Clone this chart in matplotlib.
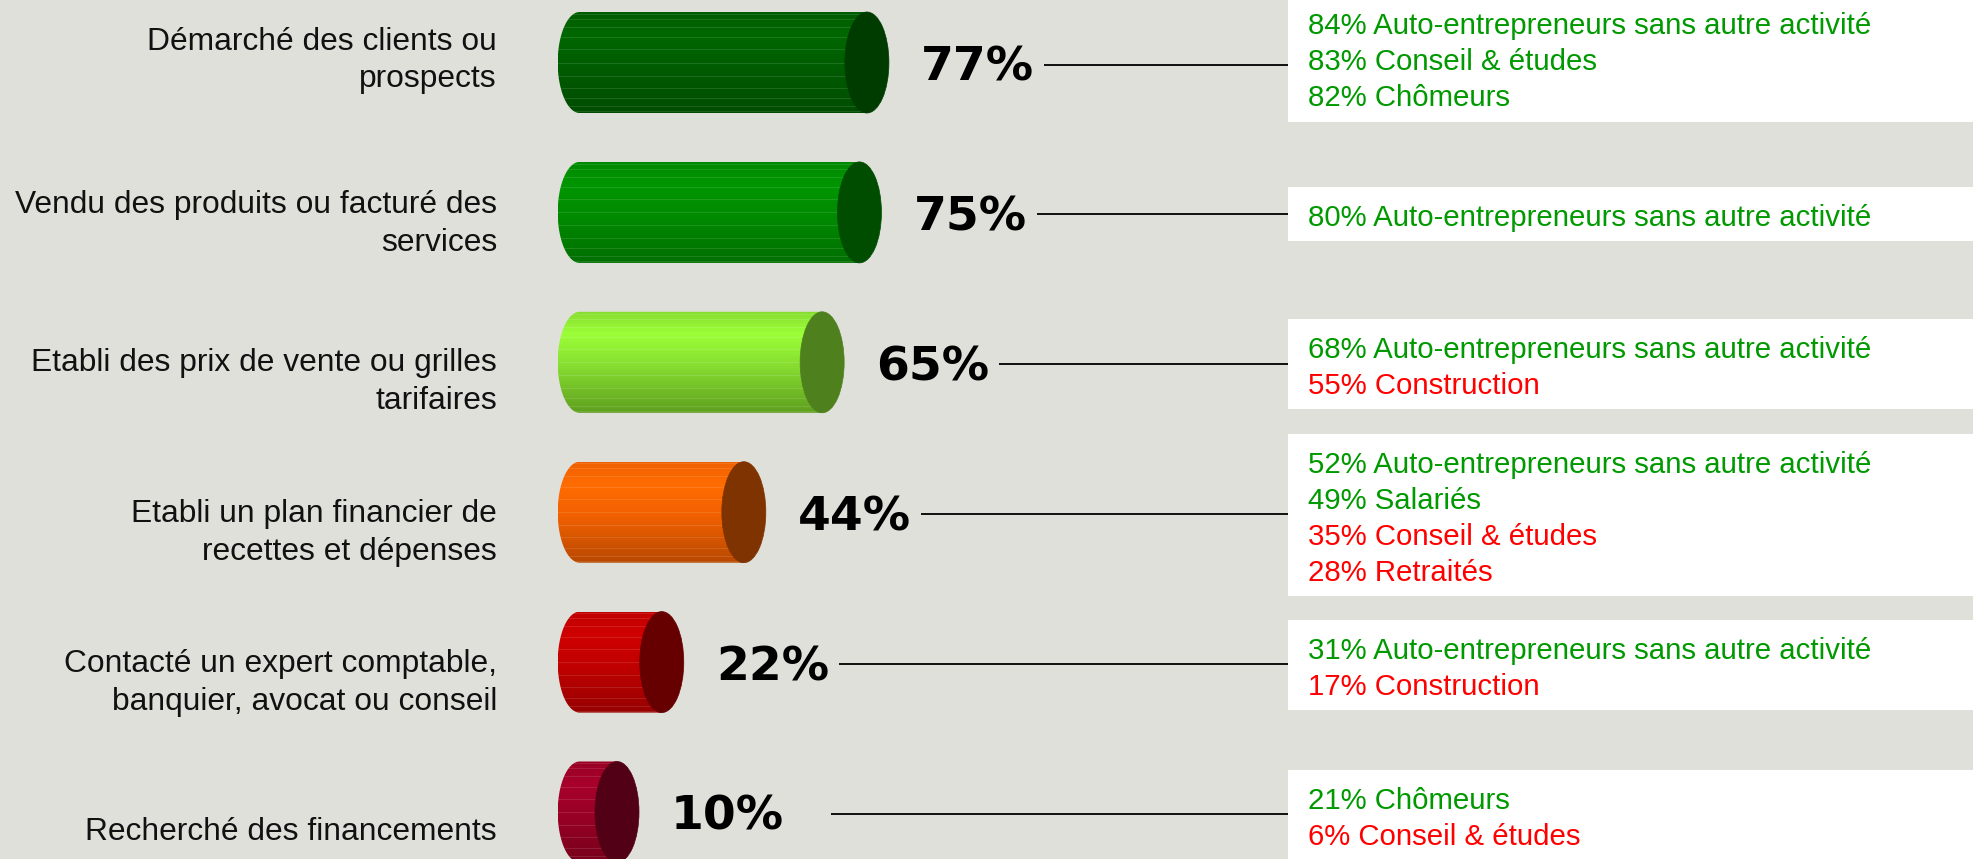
import numpy as np
import matplotlib
matplotlib.use("Agg")
import matplotlib.pyplot as plt
from matplotlib.patches import Polygon, Ellipse, Rectangle
from matplotlib.colors import LinearSegmentedColormap

# ---------------- data ----------------
categories = [
    "Démarché des clients ou\nprospects",
    "Vendu des produits ou facturé des\nservices",
    "Etabli des prix de vente ou grilles\ntarifaires",
    "Etabli un plan financier de\nrecettes et dépenses",
    "Contacté un expert comptable,\nbanquier, avocat ou conseil",
    "Recherché des financements",
]
values = [77, 75, 65, 44, 22, 10]

detail_texts = [
    ["84% Auto-entrepreneurs sans autre activité", "83% Conseil & études", "82% Chômeurs"],
    ["80% Auto-entrepreneurs sans autre activité"],
    ["68% Auto-entrepreneurs sans autre activité", "55% Construction"],
    ["52% Auto-entrepreneurs sans autre activité", "49% Salariés", "35% Conseil & études", "28% Retraités"],
    ["31% Auto-entrepreneurs sans autre activité", "17% Construction"],
    ["21% Chômeurs", "6% Conseil & études"],
]
# +1 = above average (green), -1 = below average (red)
detail_signs = [
    [1, 1, 1],
    [1],
    [1, -1],
    [1, 1, -1, -1],
    [1, -1],
    [1, -1],
]

body_light = ["#006800", "#009600", "#9cff38", "#ff6c00", "#d00000", "#a8002c"]
body_mid = ["#005c00", "#008a00", "#86dc30", "#f06000", "#c00000", "#980024"]
body_dark = ["#004c00", "#006e00", "#5e9e1e", "#b84800", "#960000", "#76001c"]
cap_colors = ["#003c00", "#004d00", "#4e801e", "#7f3300", "#660000", "#520015"]

# ---------------- layout ----------------
W, H = 1974, 859
BG = "#dfe0da"
GREEN = "#009900"
RED = "#ff0000"
X0 = 579.7      # pixel x of value 0
K = 3.73        # pixels per percent
Y0 = 62.5       # pixel y of first row centre
P = 149.9       # pixels between rows

def px2x(px):
    return (px - X0) / K

def py2y(py):
    return (py - Y0) / P

fig = plt.figure(figsize=(W / 100, H / 100), dpi=100)
fig.patch.set_facecolor(BG)
ax = fig.add_axes([0, 0, 1, 1])
ax.set_facecolor(BG)
ax.set_xlim(px2x(0), px2x(W))
ax.set_ylim(py2y(H), py2y(0))
ax.axis("off")
renderer = fig.canvas.get_renderer()

FONT = ["Liberation Sans", "DejaVu Sans"]
a = 22 / K           # half width of end ellipse (data x)
b = 50.5 / P         # half height of cylinder (data y)

label_dy = [-5, 8.5, 17, 17.5, 18, 17]   # px offsets of left labels
box_dy = [-4, 2, 2, 3, 3, 3]             # px offsets of detail boxes

for i, (cat, v) in enumerate(zip(categories, values)):
    yc = i
    # ---- cylinder body ----
    t = np.linspace(np.pi / 2, 3 * np.pi / 2, 80)
    ex = a * np.cos(t)
    ey = yc + b * np.sin(t)
    verts = [(v, yc + b)] + list(zip(ex, ey)) + [(v, yc - b)]
    body = Polygon(verts, closed=True, facecolor="none", edgecolor="none")
    ax.add_patch(body)
    cmap = LinearSegmentedColormap.from_list(
        f"c{i}", [(0, body_mid[i]), (0.22, body_light[i]), (0.55, body_mid[i]), (1, body_dark[i])])
    grad = np.linspace(0, 1, 256).reshape(-1, 1)
    im = ax.imshow(grad, cmap=cmap, extent=[-a, v, yc + b, yc - b], origin="upper",
                   aspect="auto", interpolation="bilinear", zorder=2)
    im.set_clip_path(body)
    # faint stripes (strip-rendered look), denser near the edges
    for th in np.linspace(-np.pi / 2, np.pi / 2, 13)[1:-1]:
        ys = yc + b * np.sin(th)
        ln, = ax.plot([-a, v], [ys, ys], color="white", alpha=0.12, lw=0.7, zorder=3)
        ln.set_clip_path(body)
    # ---- end cap ----
    ax.add_patch(Ellipse((v, yc), 2 * a, 2 * b, facecolor=cap_colors[i],
                         edgecolor=cap_colors[i], lw=0.5, zorder=4))

    # ---- percentage label ----
    lx = v + a + 32 / K
    pt = ax.text(lx, yc + (2 + 16) / P, f"{v}%", fontsize=34, fontweight="bold",
                 family=["DejaVu Sans"], color="black", ha="left", va="baseline", zorder=5)
    text_right_px = pt.get_window_extent(renderer=renderer).x1

    # ---- left category label ----
    lines = cat.split("\n")
    n = len(lines)
    cap_h, pitch = 22, 38
    centre_px = Y0 + i * P + label_dy[i]
    for j, line in enumerate(lines):
        base_px = centre_px + (cap_h + (n - 1) * pitch) / 2 - (n - 1 - j) * pitch
        ax.text(px2x(497), py2y(base_px), line, fontsize=22.9, family=FONT,
                color="#111111", ha="right", va="baseline")

    # ---- detail box ----
    det = detail_texts[i]
    m = len(det)
    lp = 36.0
    box_h = 54 + (m - 1) * lp
    box_c = Y0 + i * P + box_dy[i]
    box_top = box_c - box_h / 2
    ax.add_patch(Rectangle((px2x(1288), py2y(box_top)), px2x(W + 10) - px2x(1288),
                           box_h / P, facecolor="white", edgecolor="none", zorder=1))
    for j, (txt, s) in enumerate(zip(det, detail_signs[i])):
        base_px = box_top + 17 + 21.7 + j * lp
        ax.text(px2x(1308), py2y(base_px), txt, fontsize=21.2, family=FONT,
                color=GREEN if s > 0 else RED, ha="left", va="baseline", zorder=5)

    # ---- connector line ----
    start_px = max(text_right_px + 10, 831)
    ax.plot([px2x(start_px), px2x(1288)], [yc + 2 / P, yc + 2 / P],
            color="black", lw=1.3, zorder=5, solid_capstyle="butt")

fig.savefig("out.png", dpi=100, facecolor=BG)
